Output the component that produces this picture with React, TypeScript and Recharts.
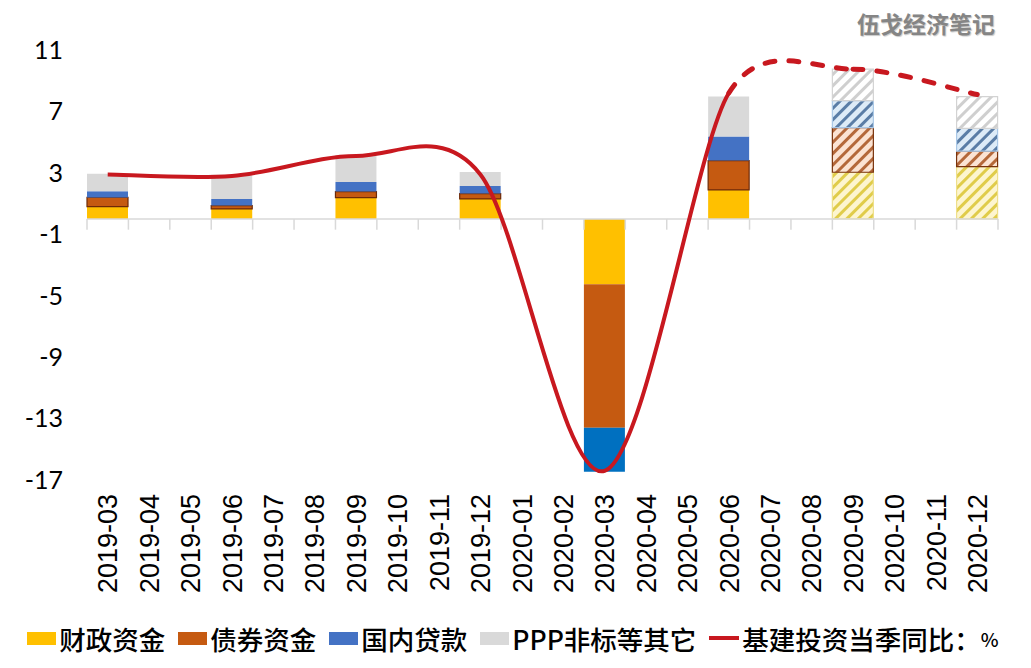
import React from 'react';
import { ComposedChart, Bar, Line, XAxis, YAxis, ReferenceLine, Legend, Cell } from 'recharts';

const months = [
  '2019-03', '2019-04', '2019-05', '2019-06', '2019-07', '2019-08', '2019-09', '2019-10',
  '2019-11', '2019-12', '2020-01', '2020-02', '2020-03', '2020-04', '2020-05', '2020-06',
  '2020-07', '2020-08', '2020-09', '2020-10', '2020-11', '2020-12',
];
const quarters = ['2019-03', '2019-06', '2019-09', '2019-12', '2020-03', '2020-06', '2020-09', '2020-12'];
const fiscalFunds = [0.8, 0.65, 1.39, 1.3, -4.26, 1.89, 3.04, 3.41];
const bondFunds = [0.6, 0.22, 0.39, 0.35, -9.34, 1.91, 2.91, 1.0];
const domesticLoans = [0.4, 0.43, 0.63, 0.5, -2.86, 1.56, 1.76, 1.49];
const pppOther = [1.15, 1.57, 1.76, 0.91, 0, 2.61, 2.04, 2.07];
const infraYoY = [2.9, 2.8, 4.1, 2.9, -16.4, 8.2, 9.75, 8.1];
const forecastQuarters = ['2020-09', '2020-12'];
const yTicks = [-17, -13, -9, -5, -1, 3, 7, 11];

const seriesNames = ['财政资金', '债券资金', '国内贷款', 'PPP非标等其它'];
const lineName = '基建投资当季同比：';
const lineUnit = '%';

const data = months.map((month) => {
  const q = quarters.indexOf(month);
  return {
    month,
    fiscal: q >= 0 ? fiscalFunds[q] : null,
    bond: q >= 0 ? bondFunds[q] : null,
    loan: q >= 0 ? domesticLoans[q] : null,
    other: q >= 0 ? pppOther[q] : null,
    infra: q >= 0 ? infraYoY[q] : null,
  };
});

// solid / hatched styles per series
const styles = [
  { key: 'fiscal', fill: '#FFC000', stroke: 'none', hatchBg: '#FDF5CF', hatchLine: '#E0CC4A', hatchStroke: '#EEDF8A' },
  { key: 'bond', fill: '#C55A11', stroke: '#6E2A08', hatchBg: '#FBE3D3', hatchLine: '#B4683A', hatchStroke: '#7A330C' },
  { key: 'loan', fill: '#4472C4', stroke: 'none', hatchBg: '#DDEBF7', hatchLine: '#5A7DA6', hatchStroke: '#A9C7E6' },
  { key: 'other', fill: '#D9D9D9', stroke: 'none', hatchBg: '#FFFFFF', hatchLine: '#CFCFCF', hatchStroke: '#D3D3D3' },
];
const LINE_RED = '#C8181F';

// Excel-like smoothed line; draws only segments [from, to) of the full point list
function excelSmooth(from: number, to: number, restart = false) {
  return (ctx: any) => {
    let pts: number[][] = [];
    const tangent = (i: number) => {
      const p = pts[i];
      const a = pts[i - 1] ?? p;
      const b = pts[i + 1] ?? p;
      let tx = (b[0] - a[0]) / 6;
      let ty = (b[1] - a[1]) / 6;
      const len = Math.hypot(tx, ty);
      const ds = [Math.hypot(p[0] - a[0], p[1] - a[1]), Math.hypot(b[0] - p[0], b[1] - p[1])].filter((d) => d > 0);
      const lim = ds.length ? Math.min(...ds) / 2 : 0;
      if (len > lim && len > 0) {
        tx *= lim / len;
        ty *= lim / len;
      }
      return [tx, ty];
    };
    return {
      areaStart() {},
      areaEnd() {},
      lineStart() { pts = []; },
      point(x: number, y: number) { pts.push([+x, +y]); },
      lineEnd() {
        const last = Math.min(to, pts.length - 1);
        for (let i = from; i < last; i++) {
          const p = pts[i];
          const q = pts[i + 1];
          const t0 = tangent(i);
          const t1 = tangent(i + 1);
          if (i === from || restart) ctx.moveTo(p[0], p[1]);
          ctx.bezierCurveTo(p[0] + t0[0], p[1] + t0[1], q[0] - t1[0], q[1] - t1[1], q[0], q[1]);
        }
      },
    };
  };
}

const MonthTick = ({ x, y, payload }: any) => (
  <text
    x={x}
    y={y}
    dy="0.36em"
    transform={`rotate(-90, ${x}, ${y})`}
    textAnchor="end"
    fontSize={27}
    fontFamily="'Liberation Sans', Arial, sans-serif"
    fill="#000"
  >
    {payload.value}
  </text>
);

const LegendBox = () => (
  <div
    style={{
      height: 60,
      display: 'flex',
      justifyContent: 'center',
      alignItems: 'center',
      paddingLeft: 28,
      fontFamily: "'Noto Sans CJK SC', sans-serif",
      fontSize: 26.5,
      fontWeight: 500,
      color: '#000',
      whiteSpace: 'nowrap',
    }}
  >
    {seriesNames.map((name, i) => (
      <span key={name} style={{ display: 'flex', alignItems: 'center', marginRight: 13 }}>
        <span style={{ width: 29, height: 13, background: styles[i].fill, marginRight: 3 }} />
        {name}
      </span>
    ))}
    <span style={{ display: 'flex', alignItems: 'center' }}>
      <span style={{ width: 30, height: 4, background: LINE_RED, marginRight: 3 }} />
      {lineName}
      <span style={{ fontSize: 19 }}>{lineUnit}</span>
    </span>
  </div>
);

export default function App() {
  return (
    <div style={{ position: 'absolute', left: 0, top: 0, width: 1031, height: 668, background: '#fff' }}>
      <svg width={0} height={0} style={{ position: 'absolute' }}>
        <defs>
          {styles.map((s) => (
            <pattern
              key={s.key}
              id={`hatch-${s.key}`}
              patternUnits="userSpaceOnUse"
              width={8}
              height={8}
              patternTransform="rotate(45)"
            >
              <rect width={8} height={8} fill={s.hatchBg} />
              <rect width={3} height={8} fill={s.hatchLine} />
            </pattern>
          ))}
        </defs>
      </svg>
      <div
        style={{
          position: 'absolute',
          left: 857,
          top: 6,
          fontFamily: "'Noto Sans CJK SC', sans-serif",
          fontSize: 23,
          fontWeight: 700,
          color: '#858585',
          textShadow: '1px 1px 1px #c8c8c8',
          zIndex: 2,
        }}
      >
        伍戈经济笔记
      </div>
      <ComposedChart
        width={1031}
        height={668}
        data={data}
        margin={{ top: 50, right: 33, left: 0, bottom: 0 }}
        barCategoryGap={0}
        barGap={0}
        stackOffset="sign"
      >
        <XAxis
          dataKey="month"
          interval={0}
          tick={<MonthTick />}
          tickLine={false}
          axisLine={false}
          tickMargin={8}
          height={128}
        />
        <YAxis
          domain={[-17, 11]}
          ticks={yTicks}
          interval={0}
          axisLine={false}
          tickLine={false}
          tickMargin={18}
          width={87}
          tick={{ fontSize: 25, fill: '#000', fontFamily: "Lato, 'Open Sans', sans-serif" }}
        />
        <ReferenceLine y={0} stroke="#D9D9D9" strokeWidth={1.5} />
        {months.map((m) => (
          <ReferenceLine
            key={`tick-${m}`}
            segment={[{ x: m, y: 0 }, { x: m, y: -0.7 }]}
            position="start"
            stroke="#D9D9D9"
            strokeWidth={1.5}
            ifOverflow="visible"
          />
        ))}
        <ReferenceLine
          segment={[{ x: months[months.length - 1], y: 0 }, { x: months[months.length - 1], y: -0.7 }]}
          position="end"
          stroke="#D9D9D9"
          strokeWidth={1.5}
          ifOverflow="visible"
        />
        {styles.map((s, si) => (
          <Bar key={s.key} dataKey={s.key} name={seriesNames[si]} stackId="funds" isAnimationActive={false}>
            {data.map((d) => {
              const forecast = forecastQuarters.includes(d.month);
              let fill = s.fill;
              if (s.key === 'loan' && d.month === '2020-03') fill = '#0070C0';
              const stroke = forecast ? s.hatchStroke : s.key === 'bond' && d.month !== '2020-03' ? s.stroke : 'none';
              return (
                <Cell
                  key={d.month}
                  fill={forecast ? `url(#hatch-${s.key})` : fill}
                  stroke={stroke}
                  strokeWidth={1.2}
                />
              );
            })}
          </Bar>
        ))}
        <Line
          dataKey="infra"
          name={lineName + lineUnit}
          type={excelSmooth(0, 5) as any}
          connectNulls
          stroke={LINE_RED}
          strokeWidth={4}
          dot={false}
          activeDot={false}
          isAnimationActive={false}
        />
        <Line
          dataKey="infra"
          name="dashed"
          type={excelSmooth(5, 7, true) as any}
          connectNulls
          stroke={LINE_RED}
          strokeWidth={5}
          strokeDasharray="10 14"
          strokeLinecap="round"
          dot={false}
          activeDot={false}
          legendType="none"
          isAnimationActive={false}
        />
        <Legend verticalAlign="bottom" content={() => <LegendBox />} />
      </ComposedChart>
    </div>
  );
}
